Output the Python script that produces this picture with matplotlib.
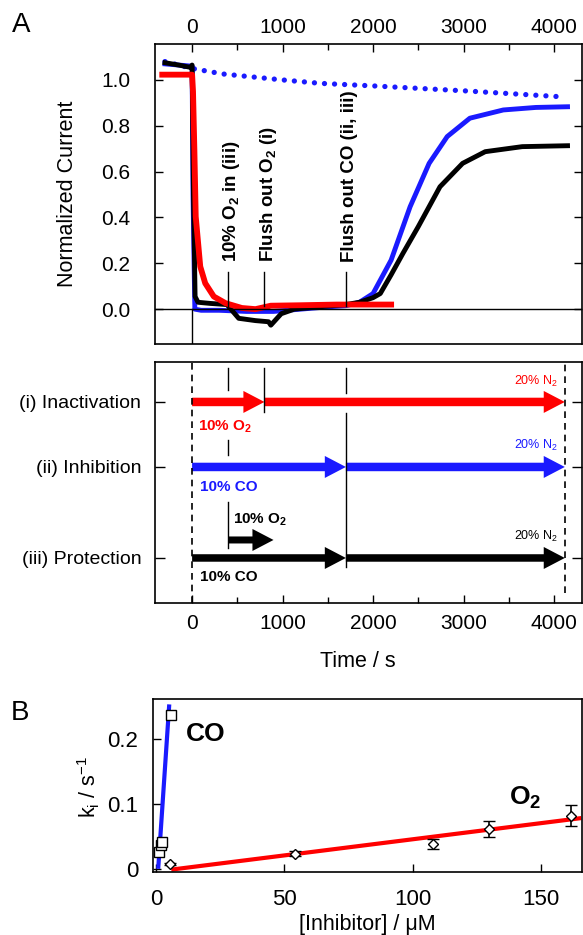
import matplotlib
matplotlib.use('Agg')
import matplotlib.pyplot as plt
from matplotlib.ticker import MultipleLocator

plt.rcParams['font.family'] = ['Liberation Sans', 'DejaVu Sans']
plt.rcParams['mathtext.default'] = 'regular'
plt.rcParams['axes.linewidth'] = 1.2

# ---- panel A, top: normalized current vs time
blue_dot_t = [-300, 0, 340, 1000, 1420, 2000, 3030, 4060]
blue_dot_i = [1.08, 1.05, 1.026, 1.0, 0.985, 0.974, 0.952, 0.927]

blue_t = [-300, 0, 10, 30, 100, 300, 600, 900, 1200, 1500, 1700, 1850, 2000,
          2200, 2410, 2620, 2820, 3070, 3440, 3800, 4150]
blue_i = [1.07, 1.06, 0.5, 0.0, -0.005, -0.005, -0.01, -0.01, 0.0, 0.01, 0.015,
          0.03, 0.068, 0.214, 0.447, 0.636, 0.753, 0.833, 0.869, 0.88, 0.883]

black_t = [-300, -150, -20, 0, 15, 33, 65, 200, 385, 515, 700, 845, 870, 985,
           1130, 1400, 1700, 1850, 2000, 2080, 2200, 2330, 2500, 2740, 2990,
           3240, 3650, 4150]
black_i = [1.075, 1.065, 1.055, 1.065, 0.5, 0.055, 0.03, 0.025, 0.02, -0.04,
           -0.05, -0.055, -0.07, -0.02, 0.0, 0.01, 0.02, 0.03, 0.05, 0.068,
           0.15, 0.243, 0.36, 0.534, 0.636, 0.687, 0.709, 0.713]

red_t = [-330, 0, 10, 25, 40, 90, 145, 240, 370, 550, 700, 870, 1200, 1600, 2200]
red_i = [1.023, 1.023, 0.95, 0.695, 0.404, 0.186, 0.113, 0.055, 0.026, 0.005,
         0.0, 0.015, 0.017, 0.02, 0.02]

event_t = [400, 800, 1700]
event_txt = ['10% O$_2$ in (iii)', 'Flush out O$_2$ (i)', 'Flush out CO (ii, iii)']

# ---- panel A, bottom: gas scheme (times in s)
t_start, t_o2_in, t_o2_out, t_co_out, t_end = 0, 400, 800, 1700, 4120
row_names = ['(i) Inactivation', '(ii) Inhibition', '(iii) Protection']

# ---- panel B: rate constants vs inhibitor concentration
co_x = [1.1, 2.0, 2.4, 5.7]
co_k = [0.027, 0.037, 0.042, 0.236]
co_fit_x = [0.85, 5.05]
co_fit_k = [0.004, 0.249]

o2_x = [5.4, 54.1, 108, 129.8, 161.8]
o2_k = [0.008, 0.024, 0.039, 0.062, 0.082]
o2_err = [0.002, 0.004, 0.0075, 0.012, 0.016]
o2_fit_x = [6.7, 164.9]
o2_fit_k = [0.0, 0.078]

fig = plt.figure(figsize=(5.83, 9.35), dpi=100)

# ================= A (traces)
ax = fig.add_axes([0.2659, 0.6321, 0.7324, 0.3209])
ax.plot(blue_dot_t, blue_dot_i, color='#1a1aff', lw=3.8,
        linestyle=(0, (0.01, 1.9)), dash_capstyle='round')
ax.plot(blue_t, blue_i, color='#1a1aff', lw=3.5)
ax.plot(black_t, black_i, color='black', lw=3.5)
ax.plot(red_t, red_i, color='#ff0000', lw=4.2)
ax.set_xlim(-410, 4310)
ax.set_ylim(-0.152, 1.157)
ax.axhline(0, color='black', lw=1)
ax.plot([0, 0], [-0.152, 0], color='black', lw=1)
for t, s in zip(event_t, event_txt):
    ax.plot([t, t], [0.015, 0.164], color='black', lw=1)
    ax.text(t + 40, 0.205, s, rotation=90, ha='center', va='bottom',
            fontsize=13.5, fontweight='bold')
ax.xaxis.set_major_locator(MultipleLocator(1000))
ax.xaxis.set_minor_locator(MultipleLocator(500))
ax.set_yticks([0, 0.2, 0.4, 0.6, 0.8, 1.0])
ax.set_yticklabels(['0.0', '0.2', '0.4', '0.6', '0.8', '1.0'])
ax.tick_params(axis='x', which='both', direction='in', top=True, bottom=False,
               labeltop=True, labelbottom=False, labelsize=15, pad=5)
ax.tick_params(axis='x', which='major', length=6, width=1)
ax.tick_params(axis='x', which='minor', length=4, width=1)
ax.tick_params(axis='y', direction='in', left=True, right=True, length=6,
               width=1, labelsize=15, pad=18)
ax.set_ylabel('Normalized Current', fontsize=15.5)
ax.yaxis.set_label_coords(-0.18, 0.5)
fig.text(21 / 583, 1 - 25 / 935, 'A', fontsize=20, ha='center', va='center')

# ================= A (gas scheme)
ax2 = fig.add_axes([0.2659, 0.3551, 0.7324, 0.2578])
ax2.set_xlim(-410, 4310)
ax2.set_ylim(0, 241)
row_y = [201, 136, 45]
red, blue = '#ff0000', '#1a1aff'


def harrow(x0, x1, y, color, w=8.5, hw=22, hl=233):
    ax2.arrow(x0, y, x1 - x0, 0, width=w, head_width=hw, head_length=hl,
              length_includes_head=True, color=color, lw=0)


harrow(t_start, t_o2_out, row_y[0], red)
harrow(t_o2_out, t_end, row_y[0], red)
harrow(t_start, t_co_out, row_y[1], blue)
harrow(t_co_out, t_end, row_y[1], blue)
harrow(t_start, t_co_out, row_y[2], 'black', w=7.5)
harrow(t_co_out, t_end, row_y[2], 'black', w=7.5)
harrow(t_o2_in, 900, 63, 'black', w=7)

ax2.plot([t_start, t_start], [0, 241], color='black', lw=1.2, ls=(0, (4, 3)))
ax2.plot([t_end, t_end], [10, 241], color='black', lw=1.2, ls=(0, (4, 3)))
for x, y0, y1 in [(t_o2_in, 213, 235), (t_o2_in, 148, 163), (t_o2_in, 55, 101),
                  (t_o2_out, 191, 235), (t_co_out, 210, 235), (t_co_out, 36, 190)]:
    ax2.plot([x, x], [y0, y1], color='black', lw=1)

ax2.text(70, 176, '10% O$_2$', color=red, fontsize=11, fontweight='bold',
         va='center')
ax2.text(90, 116, '10% CO', color=blue, fontsize=11, fontweight='bold',
         va='center')
ax2.text(455, 83, '10% O$_2$', color='black', fontsize=11, fontweight='bold',
         va='center')
ax2.text(90, 26, '10% CO', color='black', fontsize=11, fontweight='bold',
         va='center')
for y, c in [(221, red), (158, blue), (67, 'black')]:
    ax2.text(4050, y, '20% N$_2$', color=c, fontsize=9, ha='right',
             va='center')

ax2.set_yticks(row_y)
ax2.set_yticklabels(row_names)
ax2.xaxis.set_major_locator(MultipleLocator(1000))
ax2.xaxis.set_minor_locator(MultipleLocator(500))
ax2.tick_params(axis='x', which='both', direction='in', top=False, bottom=True,
                labelsize=15, pad=8)
ax2.tick_params(axis='x', which='major', length=6, width=1)
ax2.tick_params(axis='x', which='minor', length=4, width=1)
ax2.tick_params(axis='y', direction='in', left=True, right=True, length=7,
                width=1, labelsize=14, pad=10)
ax2.set_xlabel('Time / s', fontsize=15.5)
ax2.xaxis.set_label_coords(0.475, -0.2)

# ================= B
ax3 = fig.add_axes([0.263, 0.0674, 0.7353, 0.1847])
ax3.plot(co_fit_x, co_fit_k, color='#1a1aff', lw=3)
ax3.plot(o2_fit_x, o2_fit_k, color='#ff0000', lw=3)
ax3.plot(co_x, co_k, ls='none', marker='s', ms=6.5, mfc='white', mec='black',
         mew=1)
ax3.errorbar(o2_x, o2_k, yerr=o2_err, fmt='D', ms=5.5, mfc='white',
             mec='black', mew=1, ecolor='black', elinewidth=1.2, capsize=4,
             capthick=1.2)
ax3.set_xlim(-1.1, 166)
ax3.set_ylim(-0.004, 0.26)
ax3.set_xticks([0, 50, 100, 150])
ax3.set_yticks([0, 0.1, 0.2])
ax3.set_yticklabels(['0', '0.1', '0.2'])
ax3.tick_params(direction='in', length=6, width=1, labelsize=16)
ax3.tick_params(axis='x', pad=12)
ax3.tick_params(axis='y', pad=11)
ax3.text(19.5, 0.207, 'CO', fontsize=19, fontweight='bold', ha='center',
         va='center')
ax3.text(144, 0.11, 'O$_2$', fontsize=19, fontweight='bold', ha='center',
         va='center')
ax3.set_xlabel('[Inhibitor] / μM', fontsize=15.5)
ax3.xaxis.set_label_coords(0.5, -0.245)
ax3.set_ylabel('k$_i$ / s$^{-1}$', fontsize=15.5)
ax3.yaxis.set_label_coords(-0.12, 0.494)
fig.text(20 / 583, 1 - 713 / 935, 'B', fontsize=20, ha='center', va='center')

fig.savefig('out.png', dpi=100)
